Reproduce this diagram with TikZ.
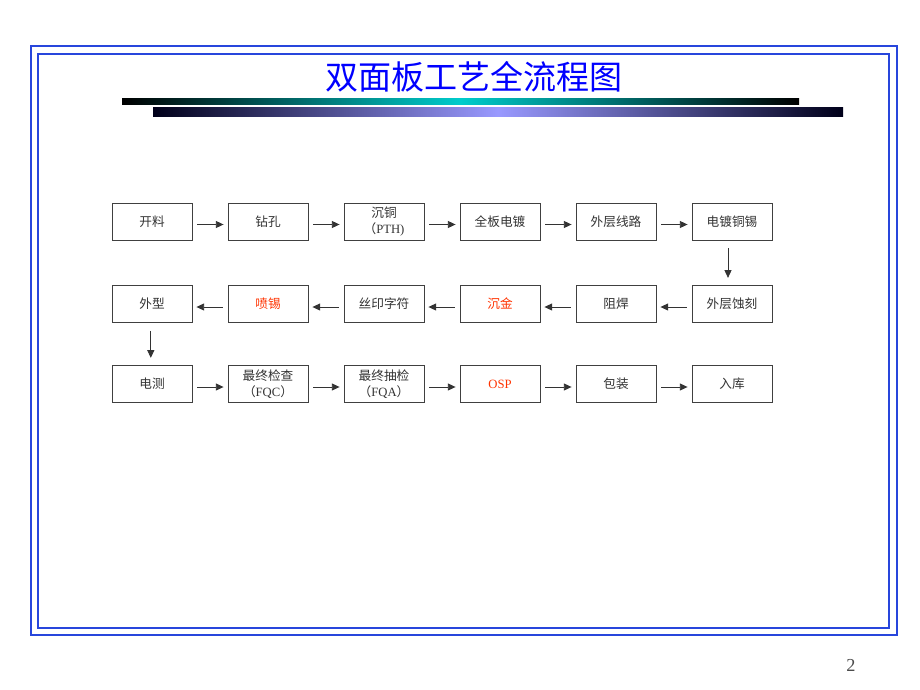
\documentclass[tikz,border=0pt]{standalone}
\usepackage{fontspec}
\setmainfont{Liberation Serif}
\newfontfamily\cjk{Noto Sans CJK SC}
\usetikzlibrary{arrows.meta}
\newcommand{\zhtxt}[1]{{\cjk #1}}
\definecolor{framebl}{RGB}{40,70,220}
\definecolor{titlebl}{RGB}{0,0,255}
\definecolor{txtred}{RGB}{255,51,0}
\definecolor{barteal}{RGB}{0,204,204}
\definecolor{barlilac}{RGB}{153,153,255}
\tikzset{
    stepbox/.style={draw=black!75, line width=.6pt, minimum width=2cm, minimum height=.925cm,
        inner sep=0pt, align=center, text=black!80, font=\fontsize{9}{11.5}\selectfont},
    flow/.style={-{Triangle[length=5.5pt, width=5pt]}, black!80, line width=.6pt,
        shorten <=.12cm, shorten >=.1cm},
    downflow/.style={flow, shorten <=.2cm, shorten >=.18cm}
}
\begin{document}
\begin{tikzpicture}[x=.025cm, y=-.025cm]
\useasboundingbox (0,0) rectangle (920,690);
\fill[white] (0,0) rectangle (920,690);
% frame
\draw[framebl, line width=1.3pt] (31,46) rectangle (897,635);
\draw[framebl, line width=.9pt] (38,54) rectangle (889,628);
% title and bars
\node (title) at (474,77) {\cjk\fontsize{23.5}{26}\selectfont\color{titlebl}双面板工艺全流程图};
\shade[left color=black, right color=black, middle color=barteal] (122,99) rectangle (799,104);
\shade[left color=black!90!blue, right color=black!90!blue, middle color=barlilac] (153,107) rectangle (843,116);

% row 1
\foreach \i/\t in {1/\zhtxt{开料},2/\zhtxt{钻孔},3/\zhtxt{沉铜}\\\zhtxt{（}PTH),
    4/\zhtxt{全板电镀},5/\zhtxt{外层线路},6/\zhtxt{电镀铜锡}}
{
    \node[stepbox] (a\i) at (152+116*\i-116,221.5) {\t};
}
% row 2
\foreach \i/\t in {1/\zhtxt{外型},2/{\color{txtred}\zhtxt{喷锡}},3/\zhtxt{丝印字符},
    4/{\color{txtred}\zhtxt{沉金}},5/\zhtxt{阻焊},6/\zhtxt{外层蚀刻}}
{
    \node[stepbox] (b\i) at (152+116*\i-116,304) {\t};
}
% row 3
\foreach \i/\t in {1/\zhtxt{电测},2/\zhtxt{最终检查}\\\zhtxt{（}FQC\zhtxt{）},
    3/\zhtxt{最终抽检}\\\zhtxt{（}FQA\zhtxt{）},4/{\color{txtred}OSP},5/\zhtxt{包装},6/\zhtxt{入库}}
{
    \node[stepbox] (c\i) at (152+116*\i-116,384) {\t};
}

\foreach \i in {1,...,5}
{
    \pgfmathtruncatemacro\j{\i+1}
    \draw[flow] ([yshift=-.075cm]a\i.east) -- ([yshift=-.075cm]a\j.west);
    \draw[flow] ([yshift=-.075cm]b\j.west) -- ([yshift=-.075cm]b\i.east);
    \draw[flow] ([yshift=-.075cm]c\i.east) -- ([yshift=-.075cm]c\j.west);
}
\draw[downflow] ([xshift=-.1cm]a6.south) -- ([xshift=-.1cm]b6.north);
\draw[downflow] ([xshift=-.03cm]b1.south) -- ([xshift=-.03cm]c1.north);

\node[text=black!70, font=\fontsize{13}{15}\selectfont] (pagenum) at (851,665) {2};
\end{tikzpicture}
\end{document}
